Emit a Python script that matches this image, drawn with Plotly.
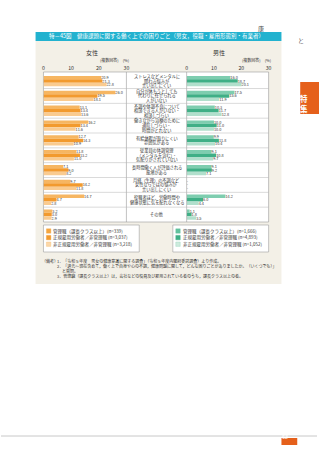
import plotly.graph_objects as go

W, H = 320, 453
FONT = "Noto Sans CJK JP"

categories = [
    "ストレスなどメンタルに<br>関わる悩みが<br>言い出しにくい",
    "自分が休もうとしても<br>代わりに任せられる<br>人がいない",
    "不調や体調不良について<br>相談できる人がいない・<br>相談しづらい",
    "働きながら治療のために<br>通院しづらい・<br>時間がとれない",
    "有給休暇が取りにくい<br>雰囲気がある",
    "従業員の体調管理<br>（メンタルを含む）・<br>気配りがされていない",
    "長時間働く人が評価される<br>風潮がある",
    "月経（生理）の不調など<br>女性ならではの悩みが<br>言い出しにくい",
    "役職者ほど、労働時間や<br>健康状態に気を配れなくなる",
    "その他",
]
cat_ids = [f"c{i}" for i in range(len(categories))]

female_kanri = [20.9, 26.0, 13.1, 16.2, 12.7, 11.8, 7.1, 9.7, 14.7, 3.2]
female_seiki = [21.3, 19.5, 13.4, 13.4, 14.3, 13.2, 9.0, 14.2, 4.7, 3.0]
female_hiseiki = [22.8, 18.1, 13.6, 11.6, 10.9, 11.0, 8.2, 11.8, 2.8, 2.9]

male_kanri = [16.0, 17.5, 10.3, 10.0, 9.9, 9.1, 9.1, None, 14.2, 1.1]
male_seiki = [18.7, 15.6, 11.7, 11.0, 11.8, 10.8, 9.2, None, 6.0, 1.8]
male_hiseiki = [20.1, 11.9, 12.8, 10.0, 10.4, 9.7, 7.1, None, 4.4, 3.5]

female_legend = [
    "管理職（課長クラス以上）(n=339)",
    "正規雇用労働者／非管理職 (n=3,037)",
    "非正規雇用労働者／非管理職 (n=3,218)",
]
male_legend = [
    "管理職（課長クラス以上）(n=1,666)",
    "正規雇用労働者／非管理職 (n=4,893)",
    "非正規雇用労働者／非管理職 (n=1,052)",
]
ticks = [0, 10, 20, 30]

title = "特－45図　健康課題に関する働く上での困りごと（男女，役職・雇用形態別・有業者）"
notes = [
    "1．「令和５年度　男女の健康意識に関する調査」（令和５年度内閣府委託調査）より作成。",
    "2．「過去～現在含めて，働く上で自身や心の不調，健康問題に関して，どんな困りごとがありましたか。（いくつでも）」",
    "　 と質問。",
    "3．管理職（課長クラス以上）は，会社などの役員及び雇用されている者のうち，課長クラス以上の者。",
]

F_COL = ["#F4A640", "#F29A2E", "#F8BE72"]
M_COL = ["#62C29E", "#3FAF86", "#98D5BC"]
F_PAT = [dict(shape=".", fgcolor="white", bgcolor=F_COL[0], size=2, solidity=0.35),
         dict(shape=""),
         dict(shape="|", fgcolor="#F29A2E", bgcolor="#FBD7A8", size=2, solidity=0.4)]
M_PAT = [dict(shape=".", fgcolor="white", bgcolor=M_COL[0], size=2, solidity=0.35),
         dict(shape=""),
         dict(shape="|", fgcolor="#3FAF86", bgcolor="#CDEBDD", size=2, solidity=0.4)]


def px(x):
    return x / W


def py(y):
    return 1 - y / H


fig = go.Figure()


def fmt(v):
    return "-" if v is None else f"{v:.1f}"


VAL_FONT = dict(size=3.8, color="#333", family=FONT)

for i, vals in enumerate([female_kanri, female_seiki, female_hiseiki]):
    fig.add_trace(go.Bar(
        y=cat_ids, x=vals, orientation="h",
        marker=dict(color=F_COL[i], pattern=F_PAT[i], line=dict(width=0)),
        text=[fmt(v) for v in vals], textposition="outside",
        textfont=VAL_FONT, constraintext="none", cliponaxis=False,
        xaxis="x", yaxis="y", showlegend=False, hoverinfo="skip",
    ))

for i, vals in enumerate([male_kanri, male_seiki, male_hiseiki]):
    fig.add_trace(go.Bar(
        y=cat_ids, x=[0 if v is None else v for v in vals], orientation="h",
        marker=dict(color=M_COL[i], pattern=M_PAT[i], line=dict(width=0)),
        text=[fmt(v) for v in vals], textposition="outside",
        textfont=VAL_FONT, constraintext="none", cliponaxis=False,
        xaxis="x2", yaxis="y2", showlegend=False, hoverinfo="skip",
    ))

y0, y1 = 72, 222
axis_common = dict(range=[0, 30], tickvals=ticks, side="top", showgrid=False,
                   zeroline=False, showline=False, ticks="",
                   tickfont=dict(size=5.2, color="#333", family=FONT))
ycommon = dict(domain=[py(y1), py(y0)], type="category", categoryarray=cat_ids,
               autorange="reversed", showticklabels=False, showgrid=False,
               zeroline=False, showline=False, ticks="")

shapes = []
shapes.append(dict(type="rect", xref="paper", yref="paper", x0=px(35), x1=px(284),
                   y0=py(284), y1=py(41), fillcolor="#F3F0E7", line=dict(width=0), layer="below"))
shapes.append(dict(type="rect", xref="paper", yref="paper", x0=px(35), x1=px(284),
                   y0=py(41), y1=py(32), fillcolor="#22B2CF", line=dict(width=0), layer="below"))
shapes.append(dict(type="rect", xref="paper", yref="paper", x0=px(43), x1=px(271),
                   y0=py(y1), y1=py(y0), fillcolor="white", line=dict(color="#9a9a9a", width=0.6),
                   layer="below"))
for xv in (127, 188):
    shapes.append(dict(type="line", xref="paper", yref="paper", x0=px(xv), x1=px(xv),
                       y0=py(y1), y1=py(y0), line=dict(color="#9a9a9a", width=0.6)))
for k in range(1, len(cat_ids)):
    shapes.append(dict(type="line", xref="paper", yref="y", x0=px(43), x1=px(271),
                       y0=k - 0.5, y1=k - 0.5, line=dict(color="#b5b5b5", width=0.5)))

annotations = []
annotations.append(dict(text=title, x=px(47), y=py(36.5), xref="paper", yref="paper",
                        xanchor="left", yanchor="middle", showarrow=False,
                        font=dict(size=5.5, color="white", family=FONT)))
annotations.append(dict(text="女性", x=px(85), y=py(52), xref="paper", yref="paper",
                        yanchor="middle", showarrow=False, borderpad=0,
                        font=dict(size=6, color="#333", family=FONT)))
annotations.append(dict(text="男性", x=px(228), y=py(52), xref="paper", yref="paper",
                        yanchor="middle", showarrow=False, borderpad=0,
                        font=dict(size=6, color="#333", family=FONT)))
for xr in (131, 274):
    annotations.append(dict(text="(複数回答)　(%)", x=px(xr), y=py(60), xref="paper", yref="paper",
                            xanchor="right", yanchor="middle", showarrow=False, borderpad=0,
                            font=dict(size=4, color="#333", family=FONT)))

for cid, lab in zip(cat_ids, categories):
    lines = lab.split("<br>")
    n = len(lines)
    for j, ln in enumerate(lines):
        annotations.append(dict(text=ln, x=px(157.5), y=cid, xref="paper", yref="y",
                                yshift=-(j - (n - 1) / 2) * 4.6, showarrow=False, borderpad=0,
                                font=dict(size=4.2, color="#333", family=FONT)))


def add_legend(x0, x1, labels, cols, pats):
    shapes.append(dict(type="rect", xref="paper", yref="paper", x0=px(x0), x1=px(x1),
                       y0=py(252), y1=py(225), fillcolor="white",
                       line=dict(color="#a0a0a0", width=0.6)))
    for r, lab in enumerate(labels):
        yc = 231 + r * 6.6
        fill = cols[r] if pats[r].get("shape", "") == "" else pats[r]["bgcolor"]
        shapes.append(dict(type="rect", xref="paper", yref="paper", x0=px(x0 + 3), x1=px(x0 + 7.5),
                           y0=py(yc + 2.2), y1=py(yc - 2.2), fillcolor=fill,
                           line=dict(color=cols[r], width=0.4)))
        annotations.append(dict(text=lab, x=px(x0 + 9), y=py(yc), xref="paper", yref="paper",
                                xanchor="left", yanchor="middle", showarrow=False, borderpad=0,
                                font=dict(size=4.5, color="#333", family=FONT)))


add_legend(43, 140, female_legend, F_COL, F_PAT)
add_legend(174, 271, male_legend, M_COL, M_PAT)

annotations.append(dict(text="（備考）", x=px(41), y=py(261), xref="paper", yref="paper",
                        xanchor="left", yanchor="middle", showarrow=False, borderpad=0,
                        font=dict(size=4, color="#333", family=FONT)))
for j, ln in enumerate(notes):
    annotations.append(dict(text=ln, x=px(56), y=py(261 + j * 5), xref="paper", yref="paper",
                            xanchor="left", yanchor="middle", showarrow=False, borderpad=0,
                            font=dict(size=4, color="#333", family=FONT)))

annotations.append(dict(text="康", x=px(268), y=py(22), xref="paper", yref="paper",
                        showarrow=False, font=dict(size=6, color="#444", family=FONT)))
annotations.append(dict(text="と", x=px(309), y=py(34), xref="paper", yref="paper",
                        showarrow=False, font=dict(size=6, color="#444", family=FONT)))
shapes.append(dict(type="rect", xref="paper", yref="paper", x0=px(303), x1=px(322),
                   y0=py(114), y1=py(82), fillcolor="#E5601B", line=dict(width=0)))
for k, ch in enumerate(["特", "集"]):
    annotations.append(dict(text=f"<b>{ch}</b>", x=px(312), y=py(92 + k * 10), xref="paper",
                            yref="paper", showarrow=False, borderpad=0,
                            font=dict(size=7.5, color="white", family=FONT)))
shapes.append(dict(type="line", xref="paper", yref="paper", x0=0, x1=1, y0=py(436), y1=py(436),
                   line=dict(color="#c8c8c8", width=1)))
shapes.append(dict(type="rect", xref="paper", yref="paper", x0=px(284), x1=px(300),
                   y0=py(445), y1=py(438), fillcolor="#E5601B", line=dict(width=0)))
annotations.append(dict(text="53", x=px(292), y=py(441.5), xref="paper", yref="paper",
                        showarrow=False, borderpad=0,
                        font=dict(size=5.5, color="white", family=FONT)))

fig.update_layout(
    width=W, height=H, margin=dict(l=0, r=0, t=0, b=0),
    paper_bgcolor="white", plot_bgcolor="rgba(0,0,0,0)",
    barmode="group", bargap=0.3, bargroupgap=0.0,
    font=dict(family=FONT),
    xaxis=dict(domain=[px(43), px(127)], anchor="y", **axis_common),
    xaxis2=dict(domain=[px(188), px(271)], anchor="y2", **axis_common),
    yaxis=ycommon,
    yaxis2=dict(**ycommon, anchor="x2", matches="y"),
    shapes=shapes, annotations=annotations, showlegend=False,
)

fig.write_html("out.html")
